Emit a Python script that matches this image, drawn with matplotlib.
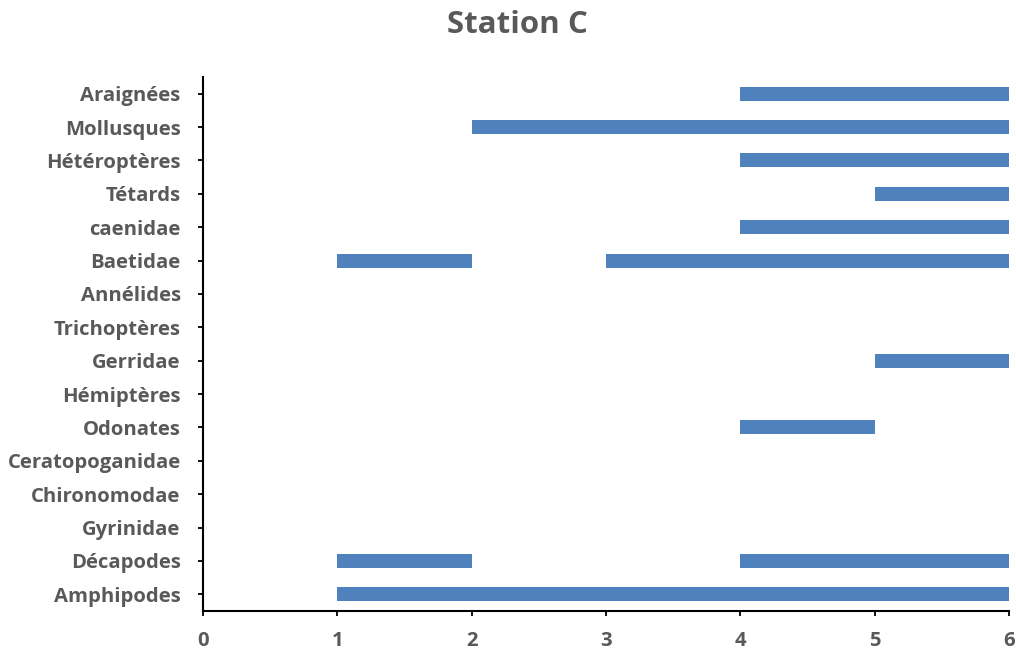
import matplotlib
matplotlib.use('Agg')
import matplotlib.pyplot as plt

# categories from bottom to top
taxa = ['Amphipodes', 'Décapodes', 'Gyrinidae', 'Chironomodae',
        'Ceratopoganidae', 'Odonates', 'Hémiptères', 'Gerridae',
        'Trichoptères', 'Annélides', 'Baetidae', 'caenidae', 'Tétards',
        'Hétéroptères', 'Mollusques', 'Araignées']

# presence intervals (start, end) per taxon
spans = {
    'Amphipodes': [(1, 6)],
    'Décapodes': [(1, 2), (4, 6)],
    'Odonates': [(4, 5)],
    'Gerridae': [(5, 6)],
    'Baetidae': [(1, 2), (3, 6)],
    'caenidae': [(4, 6)],
    'Tétards': [(5, 6)],
    'Hétéroptères': [(4, 6)],
    'Mollusques': [(2, 6)],
    'Araignées': [(4, 6)],
}
x_ticks = [0, 1, 2, 3, 4, 5, 6]

grey = '#595959'
plt.rcParams['font.family'] = ['Open Sans', 'DejaVu Sans']

fig = plt.figure(figsize=(10.16, 6.55), dpi=100)
ax = fig.add_axes([0.1998, 0.0672, 0.7934, 0.8152])

for i, name in enumerate(taxa):
    for start, end in spans.get(name, []):
        ax.barh(i, end - start, left=start, height=0.42, color='#4F81BD')

ax.set_xlim(0, 6)
ax.set_ylim(-0.5, len(taxa) - 0.5)
ax.set_yticks(range(len(taxa)))
ax.set_yticklabels(taxa, fontsize=14.6, fontweight='bold', color=grey)
ax.set_xticks(x_ticks)
ax.set_xticklabels([str(t) for t in x_ticks], fontsize=14.6,
                   fontweight='bold', color=grey)
ax.tick_params(axis='y', length=3.6, width=1.3, pad=12.5)
ax.tick_params(axis='x', length=3.6, width=1.3, pad=10.5)
for side in ['top', 'right']:
    ax.spines[side].set_visible(False)
for side in ['left', 'bottom']:
    ax.spines[side].set_linewidth(1.5)
    ax.spines[side].set_color('black')

fig.text(0.509, 0.962, 'Station C', ha='center', va='center',
         fontsize=22.5, fontweight='bold', color=grey)

fig.savefig('out.png', dpi=100)
